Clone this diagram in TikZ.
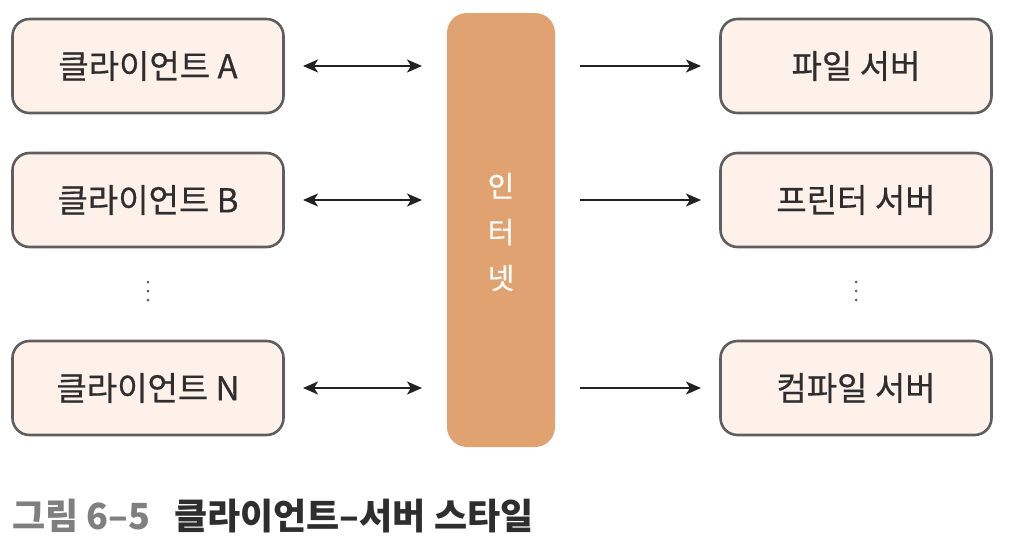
\documentclass[tikz,border=0pt]{standalone}
\usepackage{fontspec}
\setmainfont{Noto Sans CJK KR}
\newfontfamily\krmed{Noto Sans CJK KR}[FakeBold=0.5]
\usetikzlibrary{arrows.meta}
\definecolor{boxfill}{HTML}{FDF1EA}
\definecolor{boxline}{HTML}{5E5E5E}
\definecolor{barfill}{HTML}{E0A271}
\definecolor{arrowcol}{HTML}{222222}
\definecolor{capgray}{HTML}{7F7F7F}
\definecolor{capdark}{HTML}{2E2E2E}
\tikzset{
  rbox/.style={draw=boxline, line width=2.6pt, fill=boxfill, rounded corners=17pt,
    minimum width=271pt, minimum height=94pt, inner sep=0pt,
    font=\krmed\fontsize{33}{36}\selectfont, text=capdark},
  conn/.style={arrowcol, line width=1.8pt, -{Stealth[length=15pt,width=13pt,inset=4pt]}},
  dconn/.style={arrowcol, line width=1.8pt, {Stealth[length=15pt,width=13pt,inset=4pt]}-{Stealth[length=15pt,width=13pt,inset=4pt]}},
  vdot/.style={circle, fill=boxline, inner sep=0pt, minimum size=3pt},
}
\begin{document}
\begin{tikzpicture}[x=1pt,y=-1pt]
\useasboundingbox (0,0) rectangle (1012,552);
% internet bar
\node[fill=barfill, rounded corners=20pt, minimum width=108pt, minimum height=434pt, inner sep=0pt] (net) at (501,230) {};
\node[text=white, font=\krmed\fontsize{29}{46}\selectfont, align=center] (nettxt) at (501,232) {인\\터\\넷};
% clients
\node[rbox] (ca) at (148,66) {클라이언트 A};
\node[rbox] (cb) at (148,200) {클라이언트 B};
\node[rbox] (cn) at (148,388) {클라이언트 N};
% servers
\node[rbox] (sa) at (856,66) {파일 서버};
\node[rbox] (sb) at (856,200) {프린터 서버};
\node[rbox] (sn) at (856,388) {컴파일 서버};
% dots
\node[vdot] (ld1) at (148,282) {};
\node[vdot] (ld2) at (148,291) {};
\node[vdot] (ld3) at (148,300) {};
\node[vdot] (rd1) at (856,282) {};
\node[vdot] (rd2) at (856,291) {};
\node[vdot] (rd3) at (856,300) {};
% arrows
\coordinate (la1) at (303,66); \coordinate (la2) at (422,66);
\coordinate (lb1) at (303,200); \coordinate (lb2) at (422,200);
\coordinate (ln1) at (303,388); \coordinate (ln2) at (422,388);
\coordinate (ra1) at (580,66); \coordinate (ra2) at (701,66);
\coordinate (rb1) at (580,200); \coordinate (rb2) at (701,200);
\coordinate (rn1) at (580,388); \coordinate (rn2) at (701,388);
\draw[dconn] (la1) -- (la2);
\draw[dconn] (lb1) -- (lb2);
\draw[dconn] (ln1) -- (ln2);
\draw[conn] (ra1) -- (ra2);
\draw[conn] (rb1) -- (rb2);
\draw[conn] (rn1) -- (rn2);
% caption
\node[anchor=west, inner sep=0pt, text=capgray, font=\fontsize{36}{40}\selectfont\bfseries] (cap1) at (12,516) {그림 6–5};
\node[anchor=west, inner sep=0pt, text=capdark, font=\fontsize{36}{40}\selectfont\bfseries] (cap2) at (174,516) {클라이언트–서버 스타일};
\end{tikzpicture}
\end{document}
